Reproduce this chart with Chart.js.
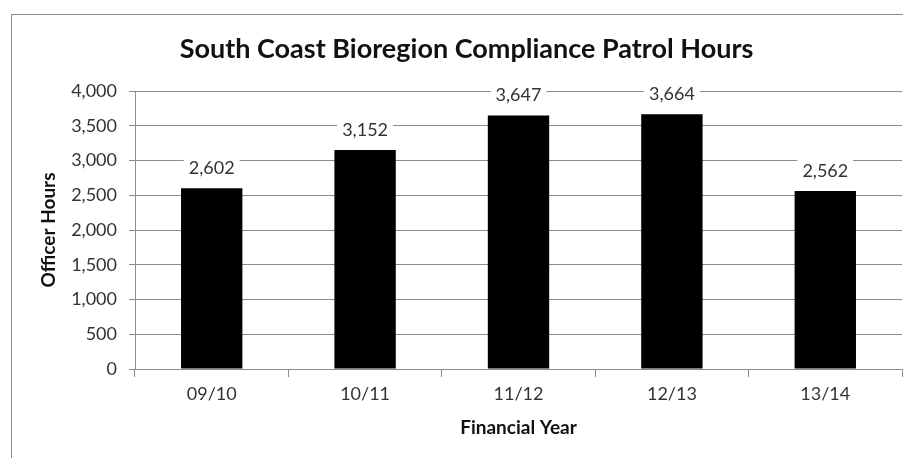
<!DOCTYPE html>
<html>
<head>
<meta charset="utf-8">
<script src="https://cdn.jsdelivr.net/npm/chart.js@4.4.0/dist/chart.umd.min.js"></script>
<style>
  html, body { margin: 0; padding: 0; background: #fff; overflow: hidden; }
  #wrap { position: relative; width: 910px; height: 458px; }
  #frame { position: absolute; left: 11px; top: 14px; width: 892px; height: 460px;
           border-left: 1px solid #8c8c8c; border-top: 1px solid #8c8c8c; box-sizing: border-box; }
  canvas { position: absolute; left: 0; top: 0; }
</style>
</head>
<body>
<div id="wrap">
  <div id="frame"></div>
  <canvas id="c" width="910" height="458"></canvas>
</div>
<script>
const categories = ['09/10', '10/11', '11/12', '12/13', '13/14'];
const officerHours = [2602, 3152, 3647, 3664, 2562];
const yTicks = [0, 500, 1000, 1500, 2000, 2500, 3000, 3500, 4000];

const FONT = 'Lato, "Open Sans", sans-serif';
const fmt = v => v.toLocaleString('en-US');

const labelPlugin = {
  id: 'valueLabels',
  afterDatasetsDraw(chart) {
    const ctx = chart.ctx;
    const meta = chart.getDatasetMeta(0);
    ctx.save();
    ctx.font = '18px ' + FONT;
    ctx.textAlign = 'center';
    ctx.textBaseline = 'middle';
    meta.data.forEach((bar, i) => {
      const txt = fmt(officerHours[i]);
      const w = ctx.measureText(txt).width;
      const cy = bar.y - 20;
      ctx.fillStyle = '#fff';
      ctx.fillRect(bar.x - w / 2 - 5, cy - 11, w + 10, 22);
      ctx.fillStyle = '#333';
      ctx.fillText(txt, bar.x, cy);
    });
    ctx.restore();
  }
};

new Chart(document.getElementById('c'), {
  type: 'bar',
  data: {
    labels: categories,
    datasets: [{
      data: officerHours,
      backgroundColor: '#000',
      borderWidth: 0,
      barPercentage: 0.8,
      categoryPercentage: 0.5
    }]
  },
  options: {
    responsive: false,
    animation: false,
    devicePixelRatio: 1,
    layout: { padding: { left: 31, right: 8, top: 0, bottom: 0 } },
    plugins: {
      legend: { display: false },
      tooltip: { enabled: false },
      title: {
        display: true,
        text: 'South Coast Bioregion Compliance Patrol Hours',
        color: '#111',
        font: { family: FONT, size: 27, weight: 'bold', lineHeight: 1.2 },
        padding: { top: 33, bottom: 25.6 }
      }
    },
    scales: {
      x: {
        offset: true,
        grid: { display: true, drawOnChartArea: false, drawTicks: true, tickLength: 8, color: '#8c8c8c', offset: true },
        border: { display: true, color: '#8c8c8c', width: 1 },
        ticks: { color: '#333', font: { family: FONT, size: 18 }, padding: 6, maxRotation: 0 },
        title: {
          display: true, text: 'Financial Year', color: '#111',
          font: { family: FONT, size: 19, weight: 'bold', lineHeight: 1.2 },
          padding: { top: 0, bottom: 19 }
        },
        afterFit(scale) { scale.height = 89; }
      },
      y: {
        min: 0, max: 4000,
        afterBuildTicks(scale) { scale.ticks = yTicks.map(v => ({ value: v })); },
        grid: { color: '#8c8c8c', drawTicks: true, tickLength: 6, lineWidth: 1 },
        border: { display: true, color: '#8c8c8c', width: 1 },
        ticks: { color: '#333', font: { family: FONT, size: 18 }, padding: 12, callback: v => fmt(v) },
        title: {
          display: true, text: 'Officer Hours', color: '#111',
          font: { family: FONT, size: 19, weight: 'bold', lineHeight: 1.2 },
          padding: { top: 6, bottom: 0 }
        },
        afterFit(scale) { scale.width = 104; }
      }
    }
  },
  plugins: [labelPlugin]
});
</script>
</body>
</html>
